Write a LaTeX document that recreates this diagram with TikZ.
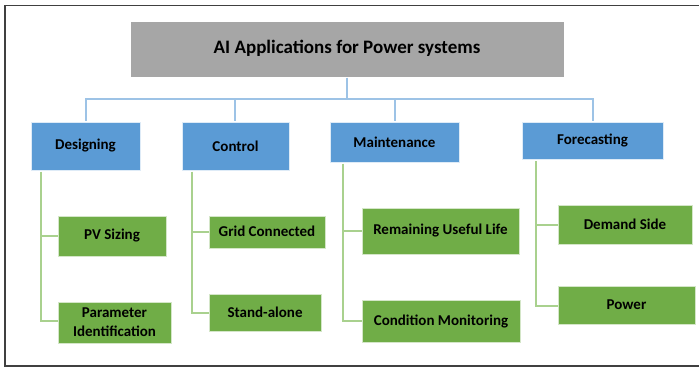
\documentclass[tikz,border=0pt]{standalone}
\usepackage{fontspec}
\setmainfont{Carlito}
\definecolor{titlegray}{HTML}{A6A6A6}
\definecolor{boxblue}{HTML}{5B9BD5}
\definecolor{boxgreen}{HTML}{70AD47}
\definecolor{lineblue}{HTML}{9DC3E6}
\definecolor{linegreen}{HTML}{A9D18E}
\definecolor{framegray}{HTML}{404040}
\begin{document}
\begin{tikzpicture}[x=1pt,y=-1pt,
  titlebox/.style={fill=titlegray,draw=white,line width=0.8pt},
  catbox/.style={fill=boxblue,draw=white!80!boxblue,line width=0.8pt},
  leafbox/.style={fill=boxgreen,draw=white!70!boxgreen,line width=0.8pt},
  titletext/.style={font=\bfseries\fontsize{19}{22}\selectfont,text=black,inner sep=0pt},
  boxtext/.style={font=\bfseries\fontsize{15}{19}\selectfont,text=black,align=center,inner sep=0pt},
  bline/.style={draw=lineblue,line width=1.3pt},
  gline/.style={draw=linegreen,line width=1.3pt}]
\useasboundingbox (0,0) rectangle (699,368);
% frame
\draw[framegray,line width=1.6pt] (710,5.5) -- (5,5.5) -- (5,366) -- (710,366);
% title
\path[titlebox] (130,21) rectangle (564,77);
\node[titletext] (title) at (347,48) {AI Applications for Power systems};
% category boxes
\path[catbox] (31,122) rectangle (140,170);
\node[boxtext] (des) at (85.5,146) {Designing};
\path[catbox] (182,122) rectangle (289,170);
\node[boxtext] (con) at (235.5,146) {Control};
\path[catbox] (330,122) rectangle (459,162);
\node[boxtext] (mai) at (394.5,142) {Maintenance};
\path[catbox] (522,122) rectangle (663,159);
\node[boxtext] (for) at (592.5,140.5) {Forecasting};
% blue connectors
\coordinate (tb) at (347,77.5);
\coordinate (hb) at (347,99);
\draw[bline] (tb) -- (hb);
\draw[bline] (86,120.5) -- (86,99) -- (593,99) -- (593,120.5);
\draw[bline] (235,99) -- (235,120.5);
\draw[bline] (395,99) -- (395,120.5);
% leaf boxes
\path[leafbox] (58,216) rectangle (166,256);
\node[boxtext] (pv) at (112,236) {PV Sizing};
\path[leafbox] (58,302) rectangle (171,343);
\node[boxtext] (par) at (114.5,322.5) {Parameter\\Identification};
\path[leafbox] (209,216) rectangle (325,248);
\node[boxtext] (grid) at (267,231.5) {Grid Connected};
\path[leafbox] (209,294) rectangle (321,331);
\node[boxtext] (sa) at (265,312) {Stand-alone};
\path[leafbox] (362,208) rectangle (519,254);
\node[boxtext] (rul) at (440.5,231) {Remaining Useful Life};
\path[leafbox] (362,300) rectangle (520,342);
\node[boxtext] (cm) at (441,321) {Condition Monitoring};
\path[leafbox] (558,205) rectangle (692,244);
\node[boxtext] (ds) at (625,224) {Demand Side};
\path[leafbox] (558,286) rectangle (695,324);
\node[boxtext] (pw) at (626.5,304.5) {Power};
% green connectors
\draw[gline] (41,171.5) -- (41,321) -- (58,321);
\draw[gline] (41,236) -- (58,236);
\draw[gline] (192,171.5) -- (192,313) -- (209,313);
\draw[gline] (192,232) -- (209,232);
\draw[gline] (343,163.5) -- (343,321) -- (362,321);
\draw[gline] (343,231) -- (362,231);
\draw[gline] (536,161) -- (536,306) -- (558,306);
\draw[gline] (536,225) -- (558,225);
\end{tikzpicture}
\end{document}
